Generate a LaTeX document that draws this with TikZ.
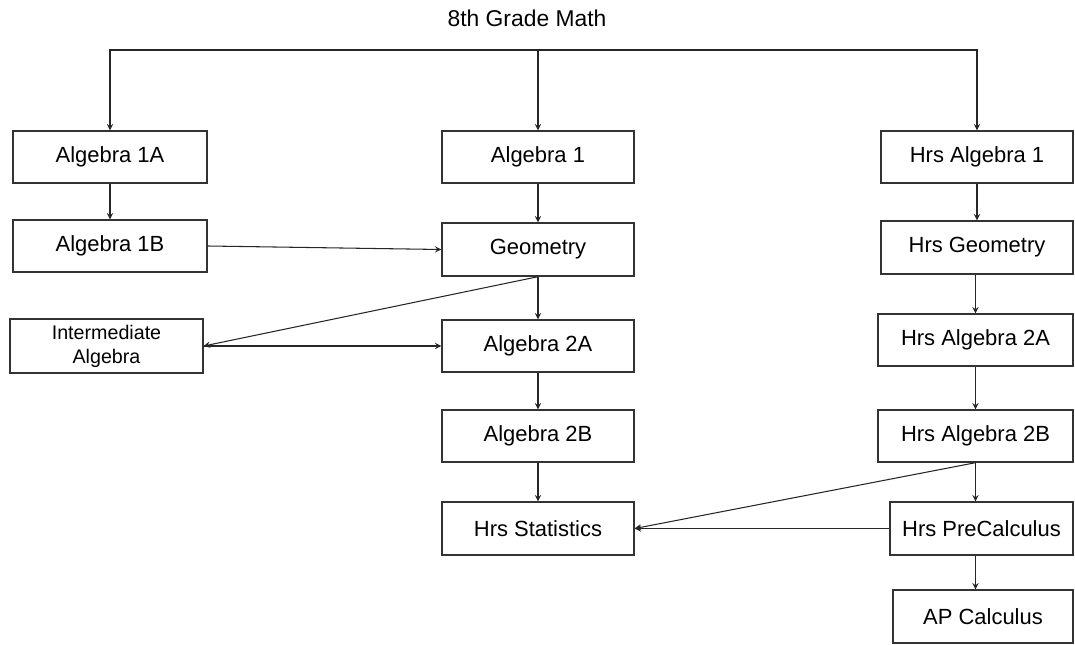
\documentclass[tikz,border=0pt]{standalone}
\usepackage{fontspec}
\setmainfont{Liberation Sans}
\usetikzlibrary{arrows,positioning}

\tikzset{
  course/.style={draw=black!80, line width=0.8pt, minimum width=3.84cm, minimum height=1.04cm, font=\fontsize{12.5}{15}\selectfont},
  link/.style={->, >=stealth, line width=0.6pt, draw=black!85}
}

\begin{document}
\begin{tikzpicture}[x=0.02cm, y=-0.02cm]
            \useasboundingbox (0,0) rectangle (1075,645);
            \node[font=\fontsize{13}{15}\selectfont] (title) at (527,18) {8th Grade Math};
            \coordinate (bus) at (538,50);

            % left column
            \node[course, minimum width=3.88cm] (alg1a) at (110,157) {Algebra 1A};
            \node[course, minimum width=3.88cm] (alg1b) at (110,246) {Algebra 1B};
            \node[course, minimum width=3.86cm, align=center, font=\fontsize{11.2}{13.6}\selectfont] (interalg) at (106.5,346) {Intermediate\\Algebra};

            % middle column
            \node[course] (alg1) at (538,157) {Algebra 1};
            \node[course, minimum height=1.06cm] (geom) at (538,249.5) {Geometry};
            \node[course] (alg2a) at (538,346) {Algebra 2A};
            \node[course] (alg2b) at (538,436) {Algebra 2B};
            \node[course, minimum height=1.06cm] (hstat) at (538,528.5) {Hrs Statistics};

            % honors column
            \node[course] (halg1) at (977,157) {Hrs Algebra 1};
            \node[course, minimum height=1.06cm] (hgeom) at (977,247.5) {Hrs Geometry};
            \node[course, minimum width=3.9cm] (halg2a) at (975.5,340) {Hrs Algebra 2A};
            \node[course, minimum width=3.9cm] (halg2b) at (975.5,436) {Hrs Algebra 2B};
            \node[course, minimum width=3.66cm, minimum height=1.06cm] (hprecalc) at (981.5,528.5) {Hrs PreCalculus};
            \node[course, minimum width=3.6cm, minimum height=1.06cm] (apcalc) at (983,616.5) {AP Calculus};

            \draw[link] (bus) -| (alg1a.north);
            \draw[link] (bus) -- (alg1.north);
            \draw[link] (bus) -| (halg1.north);

            \draw[link] (alg1a) -- (alg1b);
            \draw[link] (alg1b.east) -- (geom.west);
            \draw[link] (geom.south) -- (interalg.east);
            \draw[link] (interalg.east) -- (alg2a.west);

            \draw[link] (alg1) -- (geom);
            \draw[link] (geom) -- (alg2a);
            \draw[link] (alg2a) -- (alg2b);
            \draw[link] (alg2b) -- (hstat);

            \draw[link] (halg1) -- (hgeom);
            \draw[link] (hgeom.south -| halg2a.north) -- (halg2a.north);
            \draw[link] (halg2a) -- (halg2b);
            \draw[link] (halg2b.south) -- (hprecalc.north -| halg2b.south);
            \draw[link] (halg2b.south) -- (hstat.east);
            \draw[link] (hprecalc.west) -- (hstat.east);
            \draw[link] (hprecalc.south -| halg2b.south) -- (apcalc.north -| halg2b.south);
        \end{tikzpicture}
\end{document}
